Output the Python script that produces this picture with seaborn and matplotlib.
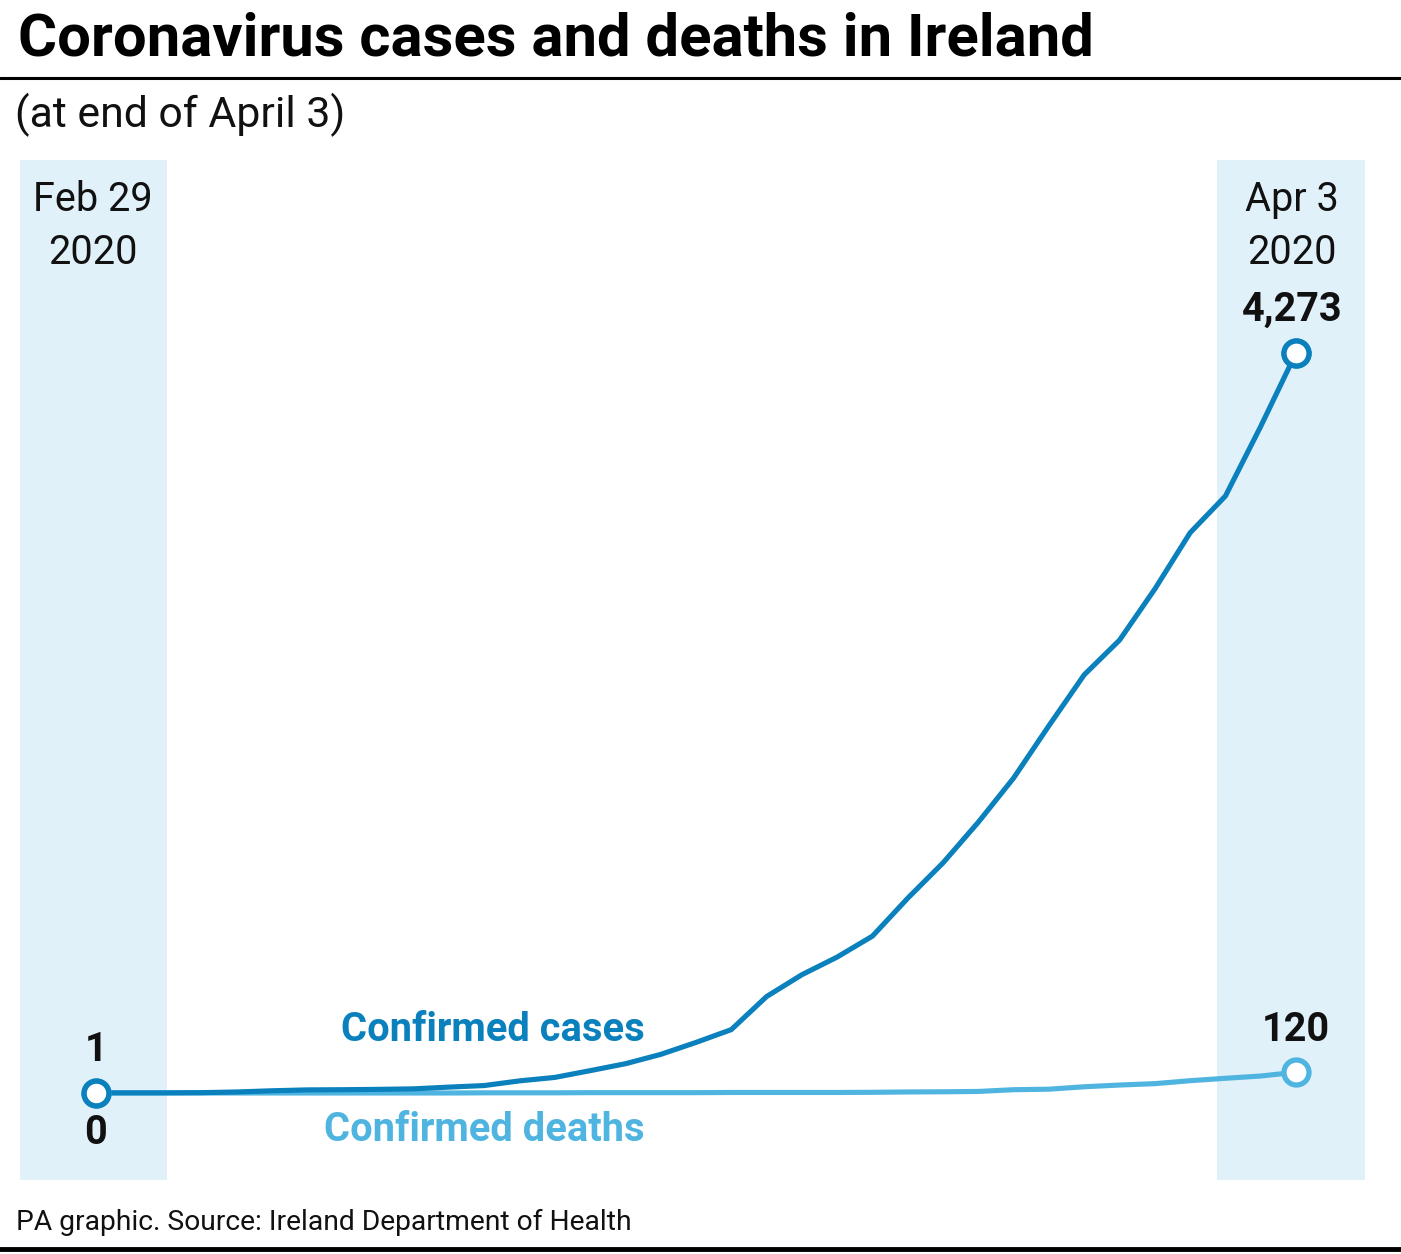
import matplotlib
matplotlib.use("Agg")
import matplotlib.pyplot as plt
import seaborn as sns
import pandas as pd
import numpy as np

# ---- data ----
dates = pd.date_range("2020-02-29", "2020-04-03", freq="D")
cases = [1, 1, 1, 2, 6, 13, 18, 19, 21, 24, 34, 43, 70, 90, 129, 169, 223, 292,
         366, 557, 683, 785, 906, 1125, 1329, 1564, 1819, 2121, 2415, 2615, 2910,
         3235, 3447, 3849, 4273]
deaths = [0, 0, 0, 0, 0, 0, 0, 0, 0, 0, 0, 1, 1, 1, 2, 2, 2, 2, 3, 3, 3, 3, 4,
          6, 7, 9, 19, 22, 36, 46, 54, 71, 85, 98, 120]
series_names = ["Confirmed cases", "Confirmed deaths"]
start_label = "Feb 29\n2020"
end_label = "Apr 3\n2020"

CASES_C = "#0a80bd"
DEATHS_C = "#4fb5e0"
BAND_C = "#e1f1fa"

day = np.arange(len(dates))
df_cases = pd.DataFrame({"day": day, "value": cases})
df_deaths = pd.DataFrame({"day": day, "value": deaths})

sns.set_theme(style="white")
plt.rcParams["font.family"] = ["Roboto", "DejaVu Sans"]

W, H = 1401, 1254
fig = plt.figure(figsize=(W / 100, H / 100), dpi=100)
ax = fig.add_axes([20 / W, (H - 1180) / H, 1345 / W, 1020 / H])
ax.set_axis_off()

ppd = 1200 / 34.0
ax.set_xlim(-76 / ppd, 34 + 69 / ppd)
ppc = 740 / 4273.0
ax.set_ylim(-87 / ppc, (1093 - 160) / ppc)

ax.axvspan(-76 / ppd, (167 - 96) / ppd, color=BAND_C, lw=0, zorder=0)
ax.axvspan((1217 - 96) / ppd, 34 + 69 / ppd, color=BAND_C, lw=0, zorder=0)

sns.lineplot(data=df_deaths, x="day", y="value", color=DEATHS_C,
             linewidth=3.7, ax=ax, zorder=2)
sns.lineplot(data=df_cases, x="day", y="value", color=CASES_C,
             linewidth=3.7, ax=ax, zorder=3)

# endpoint markers
ax.plot([day[0], day[-1]], [deaths[0], deaths[-1]], "o", ms=18, mfc="white",
        mec=DEATHS_C, mew=3.8, zorder=4, clip_on=False)
ax.plot([day[0], day[-1]], [cases[0], cases[-1]], "o", ms=18, mfc="none",
        mec=CASES_C, mew=3.8, zorder=5, clip_on=False)
ax.plot([day[-1]], [cases[-1]], "o", ms=18, mfc="white",
        mec=CASES_C, mew=3.8, zorder=6, clip_on=False)

def fy(y):
    return 1 - y / H

# texts
fig.text(18 / W, fy(40), "Coronavirus cases and deaths in Ireland",
         fontsize=43, fontweight="bold", va="center", ha="left", color="black")
fig.add_artist(plt.Line2D([0, 1], [fy(78), fy(78)], color="black", lw=2.2))
fig.text(15 / W, fy(115), "(at end of April 3)", fontsize=30.8,
         va="center", ha="left", color="#111111")
fig.text(16 / W, fy(1222), "PA graphic. Source: Ireland Department of Health",
         fontsize=20.3, va="center", ha="left", color="#111111")
fig.add_artist(plt.Line2D([0, 1], [fy(1249), fy(1249)], color="black", lw=3.5))

fig.text(93 / W, fy(226), start_label, fontsize=28.5, ha="center", va="center",
         linespacing=1.45, color="#111111")
fig.text(1292 / W, fy(226), end_label, fontsize=28.5, ha="center", va="center",
         linespacing=1.45, color="#111111")
fig.text(1292 / W, fy(310), f"{cases[-1]:,}", fontsize=28.5, fontweight="bold",
         ha="center", va="center", color="#111111")
fig.text(1296 / W, fy(1030), f"{deaths[-1]}", fontsize=28.5, fontweight="bold",
         ha="center", va="center", color="#111111")
fig.text(96 / W, fy(1050), f"{cases[0]}", fontsize=28.5, fontweight="bold",
         ha="center", va="center", color="#111111")
fig.text(96 / W, fy(1133), f"{deaths[0]}", fontsize=28.5, fontweight="bold",
         ha="center", va="center", color="#111111")
fig.text(645 / W, fy(1030), series_names[0], fontsize=28.7, fontweight="bold",
         ha="right", va="center", color=CASES_C)
fig.text(645 / W, fy(1130), series_names[1], fontsize=28.7, fontweight="bold",
         ha="right", va="center", color=DEATHS_C)

fig.savefig("out.png", dpi=100, facecolor="white")
